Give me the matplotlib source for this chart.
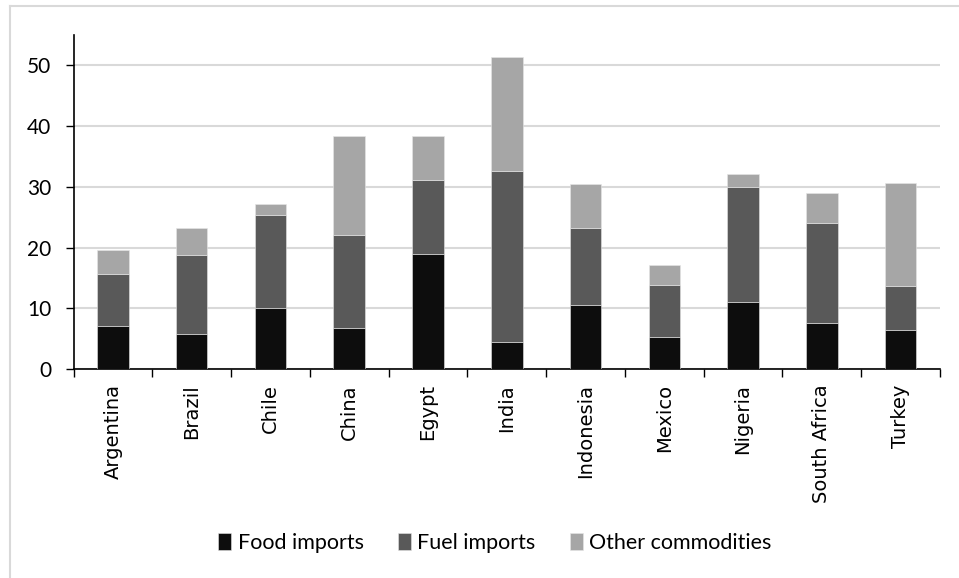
import matplotlib.pyplot as plt
from matplotlib.lines import Line2D
import numpy as np

countries = ["Argentina", "Brazil", "Chile", "China", "Egypt", "India",
             "Indonesia", "Mexico", "Nigeria", "South Africa", "Turkey"]
food = [7.1, 5.7, 10.1, 6.7, 18.9, 4.4, 10.5, 5.3, 11.1, 7.5, 6.5]
fuel = [8.5, 13.0, 15.2, 15.3, 12.3, 28.2, 12.7, 8.6, 18.9, 16.6, 7.1]
other = [4.0, 4.6, 1.9, 16.4, 7.2, 18.8, 7.3, 3.3, 2.1, 4.8, 17.1]

series_names = ["Food imports", "Fuel imports", "Other commodities"]
colors = ["#0d0d0d", "#595959", "#a6a6a6"]

W, H = 959, 578
fig = plt.figure(figsize=(W / 100, H / 100), dpi=100)
ax = fig.add_axes([73.5 / W, 1 - 369 / H, (940 - 73.5) / W, (369 - 35) / H])

x = np.arange(len(countries))
bottom = np.zeros(len(countries))
for vals, name, col in zip([food, fuel, other], series_names, colors):
    ax.bar(x, vals, width=0.4, bottom=bottom, color=col, label=name,
           edgecolor="#e6e6e6", linewidth=0.4, zorder=3)
    bottom += np.array(vals)

ax.set_xlim(-0.5, len(countries) - 0.5)
ax.set_ylim(0, 55)
ax.set_yticks(range(0, 51, 10))
ax.yaxis.grid(True, color="#d9d9d9", linewidth=1.5, zorder=0)
ax.tick_params(axis="y", length=6, width=1, labelsize=15, pad=10)
for lbl in ax.get_yticklabels():
    lbl.set_fontfamily("Lato")

# category ticks sit between the bars
ax.set_xticks(np.arange(-0.5, len(countries), 1.0))
ax.set_xticklabels([])
ax.set_xticks(x, minor=True)
ax.set_xticklabels(countries, minor=True, rotation=90, fontsize=14,
                   fontfamily="DejaVu Sans")
ax.tick_params(axis="x", which="major", length=6, width=1)
ax.tick_params(axis="x", which="minor", length=0, pad=11)

for side in ["top", "right"]:
    ax.spines[side].set_visible(False)
for side in ["left", "bottom"]:
    ax.spines[side].set_linewidth(1.2)
    ax.spines[side].set_color("black")

leg = fig.legend(loc="center", bbox_to_anchor=(495 / W, 1 - 543 / H), ncol=3,
                 frameon=False, handlelength=0.6, handleheight=0.85,
                 handletextpad=0.3, columnspacing=1.6,
                 prop={"family": "Lato", "size": 15.5})

# chart area border
fig.add_artist(Line2D([9.5 / W, 9.5 / W], [0, 1 - 6 / H], color="#d9d9d9", linewidth=1.5))
fig.add_artist(Line2D([9.5 / W, 1], [1 - 6 / H, 1 - 6 / H], color="#d9d9d9", linewidth=1.5))

fig.savefig("out.png", dpi=100, facecolor="white")
